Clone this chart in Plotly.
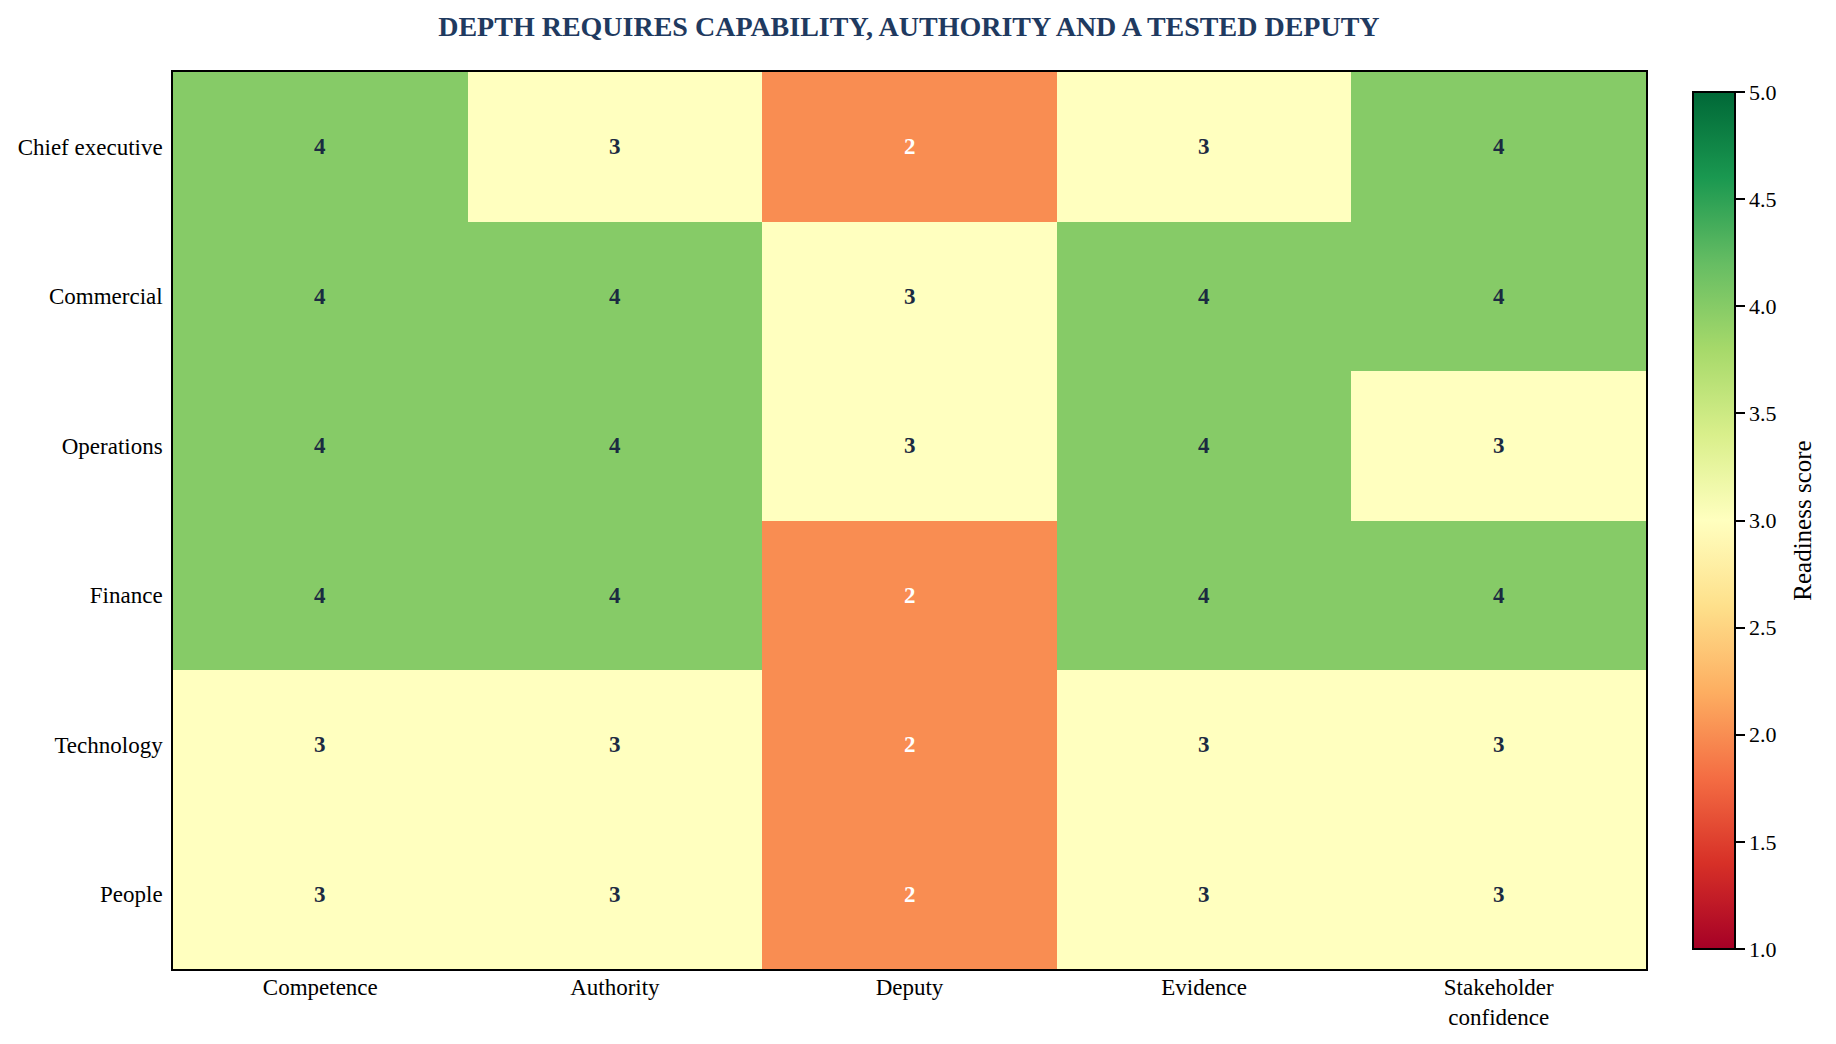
import plotly.graph_objects as go

# roles (rows, top to bottom) and readiness dimensions (columns)
roles = ["Chief executive", "Commercial", "Operations", "Finance", "Technology", "People"]
dimensions = ["Competence", "Authority", "Deputy", "Evidence", "Stakeholder<br>confidence"]

# scores per dimension, one value per role
competence = [4, 4, 4, 4, 3, 3]
authority = [3, 4, 4, 4, 3, 3]
deputy = [2, 3, 3, 2, 2, 2]
evidence = [3, 4, 4, 4, 3, 3]
stakeholder_confidence = [4, 4, 3, 4, 3, 3]

colorbar_ticks = [1.0, 1.5, 2.0, 2.5, 3.0, 3.5, 4.0, 4.5, 5.0]

FONT = "Liberation Serif, Times New Roman, serif"

columns = [competence, authority, deputy, evidence, stakeholder_confidence]
z = [[col[i] for col in columns] for i in range(len(roles))]

fig = go.Figure()
fig.add_trace(go.Heatmap(
    z=z,
    x=dimensions,
    y=roles,
    colorscale="RdYlGn",
    zmin=1,
    zmax=5,
    colorbar=dict(
        title=dict(text="Readiness score", side="right",
                   font=dict(family=FONT, size=25, color="black")),
        x=1.032,
        xanchor="left",
        xpad=0,
        y=0.5,
        yanchor="middle",
        len=877,
        lenmode="pixels",
        thickness=42,
        outlinecolor="black",
        outlinewidth=2,
        tickvals=colorbar_ticks,
        # trailing nbsp keeps a little room before the colorbar title
        ticktext=[f"{t:.1f}\u00a0\u00a0" for t in colorbar_ticks],
        ticks="outside",
        ticklen=9,
        tickwidth=1.5,
        tickcolor="black",
        tickfont=dict(family=FONT, size=22, color="black"),
    ),
))

# cell labels: white on the low (orange) cells, dark navy elsewhere
for i, role in enumerate(roles):
    for j, dim in enumerate(dimensions):
        val = z[i][j]
        fig.add_annotation(
            x=dim, y=role, text=f"<b>{val}</b>", showarrow=False,
            font=dict(family=FONT, size=23,
                      color="white" if val <= 2 else "#1B2A41"),
        )

# page body adds an 8px margin, so the figure is sized to sit inside it
fig.update_layout(
    width=1820,
    height=1028,
    paper_bgcolor="white",
    plot_bgcolor="white",
    font=dict(family=FONT, color="black"),
    title=dict(
        text="<b>DEPTH REQUIRES CAPABILITY, AUTHORITY AND A TESTED DEPUTY</b>",
        x=0.495, xanchor="center",
        y=0.9825, yanchor="middle",
        font=dict(family=FONT, size=28, color="#1F3A60"),
    ),
    margin=dict(l=165, r=182, t=64, b=67, autoexpand=False),
)

fig.update_xaxes(
    showline=True, linecolor="black", linewidth=2, mirror=True,
    ticks="", showgrid=False, zeroline=False,
    ticklabelstandoff=-4,
    tickfont=dict(family=FONT, size=23, color="black"),
)
fig.update_yaxes(
    autorange="reversed",
    showline=True, linecolor="black", linewidth=2, mirror=True,
    ticks="", showgrid=False, zeroline=False,
    ticksuffix=" ",
    ticklabelstandoff=-2,
    tickfont=dict(family=FONT, size=23, color="black"),
)

fig.write_html("out.html")
